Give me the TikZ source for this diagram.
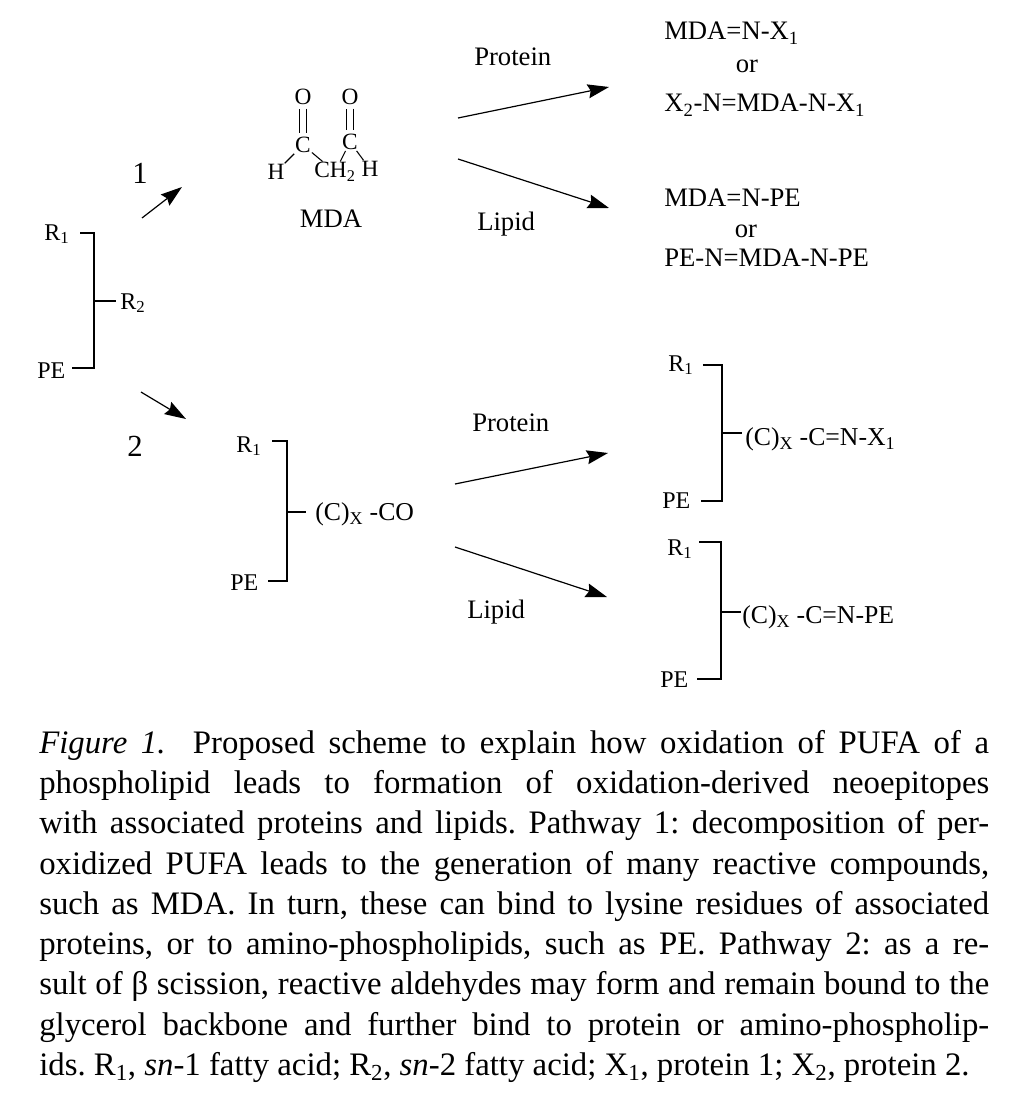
\documentclass[tikz,border=0pt]{standalone}
\usepackage{fontspec}
\setmainfont{Liberation Serif}
\usetikzlibrary{arrows.meta, positioning}

\begin{document}
\begin{tikzpicture}[x=0.75pt, y=-0.75pt,
          txt/.style={inner sep=0pt, anchor=base west, font=\fontsize{20}{22}\selectfont},
          side/.style={inner sep=0pt, anchor=base west, font=\fontsize{18}{22}\selectfont},
          chain/.style={inner sep=0pt, anchor=base west, font=\fontsize{19.3}{22}\selectfont},
          num/.style={inner sep=0pt, anchor=base west, font=\fontsize{23}{26}\selectfont},
          atom/.style={inner sep=0.6pt, font=\fontsize{17.5}{20}\selectfont},
          bond/.style={line width=0.8pt},
          dbond/.style={double, double distance=4.2pt, line width=0.6pt, shorten >=2pt, shorten <=2pt},
          bracket/.style={line width=1pt},
          arrow/.style={-{Stealth[length=16pt, width=10.5pt, inset=2pt]}, line width=0.9pt}]
        \useasboundingbox (0,0) rectangle (1016,1098);

        % starting phospholipid
        \node [side] (r1_a) at (44,240) {R\textsubscript{1}};
        \node [side] (pe_a) at (37,378) {PE};
        \coordinate (top_a) at (94,233);
        \coordinate (bot_a) at (94,368);
        \coordinate (mid_a) at (94,301);
        \node [side] (r2_a) at (120,309) {R\textsubscript{2}};
        \draw [bracket] (r1_a.east |- top_a) ++(8pt,0) -- (top_a) -- (bot_a) -- ([xshift=5pt]pe_a.east |- bot_a);
        \draw [bracket] (mid_a) -- ([xshift=-3pt]r2_a.west |- mid_a);

        \node [num] (one) at (132,184) {1};
        \node [num] (two) at (127,456) {2};
        \coordinate (a1_s) at (142,218);
        \coordinate (a1_e) at (182,187);
        \coordinate (a2_s) at (141,392);
        \coordinate (a2_e) at (186,419);
        \draw [arrow] (a1_s) -- (a1_e);
        \draw [arrow] (a2_s) -- (a2_e);

        % MDA
        \node [atom] (o_l) at (303,97) {O};
        \node [atom] (o_r) at (350,97) {O};
        \node [atom] (c_l) at (303,145) {C};
        \node [atom] (c_r) at (350,142) {C};
        \node [atom] (h_l) at (276,172) {H};
        \node [atom] (ch2) at (335,172) {CH\textsubscript{2}};
        \node [atom] (h_r) at (370,169) {H};
        \node [txt, anchor=base] (mda) at (331,228) {MDA};
        \draw [dbond] (o_l) -- (c_l);
        \draw [dbond] (o_r) -- (c_r);
        \draw [bond] (c_l) -- (h_l);
        \draw [bond] (c_l) -- (ch2);
        \draw [bond] (ch2) -- (c_r);
        \draw [bond] (c_r) -- (h_r);

        % upper pathways
        \coordinate (p1_s) at (458,118);
        \coordinate (p1_e) at (609,87);
        \coordinate (l1_s) at (458,159);
        \coordinate (l1_e) at (609,208);
        \draw [arrow] (p1_s) -- (p1_e);
        \draw [arrow] (l1_s) -- (l1_e);
        \node [txt] (protein_a) at (474,66) {Protein};
        \node [txt] (lipid_a) at (477,230) {Lipid};

        \node [txt] (mda_x) at (664,40) {MDA=N-X\textsubscript{1}};
        \node [txt, anchor=base] (or_a) at (747,73) {or};
        \node [txt] (x_mda_x) at (664,112) {X\textsubscript{2}-N=MDA-N-X\textsubscript{1}};
        \node [txt] (mda_pe) at (664,207) {MDA=N-PE};
        \node [txt, anchor=base] (or_b) at (746,238) {or};
        \node [txt] (pe_mda_pe) at (664,266) {PE-N=MDA-N-PE};

        % aldehyde still bound to the backbone
        \node [side] (r1_b) at (236,452) {R\textsubscript{1}};
        \node [side] (pe_b) at (230,590) {PE};
        \coordinate (top_b) at (287,441);
        \coordinate (bot_b) at (287,581);
        \coordinate (mid_b) at (287,512);
        \node [chain] (cx_co) at (315,520) {(C)\textsubscript{X} -CO};
        \draw [bracket] (r1_b.east |- top_b) ++(8pt,0) -- (top_b) -- (bot_b) -- ([xshift=7pt]pe_b.east |- bot_b);
        \draw [bracket] (mid_b) -- ([xshift=-7pt]cx_co.west |- mid_b);

        % lower pathways
        \coordinate (p2_s) at (455,484);
        \coordinate (p2_e) at (608,453);
        \coordinate (l2_s) at (455,547);
        \coordinate (l2_e) at (607,597);
        \draw [arrow] (p2_s) -- (p2_e);
        \draw [arrow] (l2_s) -- (l2_e);
        \node [txt] (protein_b) at (472,431) {Protein};
        \node [txt] (lipid_b) at (467,618) {Lipid};

        \node [side] (r1_c) at (668,371) {R\textsubscript{1}};
        \node [side] (pe_c) at (662,508) {PE};
        \coordinate (top_c) at (722,365);
        \coordinate (bot_c) at (722,501);
        \coordinate (mid_c) at (722,433);
        \node [chain] (cx_x) at (745,445) {(C)\textsubscript{X} -C=N-X\textsubscript{1}};
        \draw [bracket] (r1_c.east |- top_c) ++(7pt,0) -- (top_c) -- (bot_c) -- ([xshift=8pt]pe_c.east |- bot_c);
        \draw [bracket] (mid_c) -- ([xshift=-2pt]cx_x.west |- mid_c);

        \node [side] (r1_d) at (667,555) {R\textsubscript{1}};
        \node [side] (pe_d) at (660,687) {PE};
        \coordinate (top_d) at (721,542);
        \coordinate (bot_d) at (721,679);
        \coordinate (mid_d) at (721,612);
        \node [chain] (cx_pe) at (742,623) {(C)\textsubscript{X} -C=N-PE};
        \draw [bracket] (r1_d.east |- top_d) ++(5pt,0) -- (top_d) -- (bot_d) -- ([xshift=6pt]pe_d.east |- bot_d);
        \draw [bracket] (mid_d) -- ([xshift=-1pt]cx_pe.west |- mid_d);

        % caption
        \node [anchor=north west, inner sep=0pt, text width=712.5pt, align=justify,
               font=\fontsize{24.6}{30.2}\selectfont\frenchspacing] (caption) at (39,730)
          {\textit{Figure 1.}\ \ Proposed scheme to explain how oxidation of PUFA of a\linebreak
           phospholipid leads to formation of oxidation-derived neoepitopes\linebreak
           with associated proteins and lipids. Pathway 1: decomposition of per-\linebreak
           oxidized PUFA leads to the generation of many reactive compounds,\linebreak
           such as MDA. In turn, these can bind to lysine residues of associated\linebreak
           proteins, or to amino-phospholipids, such as PE. Pathway 2: as a re-\linebreak
           sult of β scission, reactive aldehydes may form and remain bound to the\linebreak
           glycerol backbone and further bind to protein or amino-phospholip-\linebreak
           \mbox{ids. R\textsubscript{1}, \textit{sn}-1 fatty acid; R\textsubscript{2}, \textit{sn}-2 fatty acid; X\textsubscript{1}, protein 1; X\textsubscript{2}, protein 2.}};
\end{tikzpicture}
\end{document}
